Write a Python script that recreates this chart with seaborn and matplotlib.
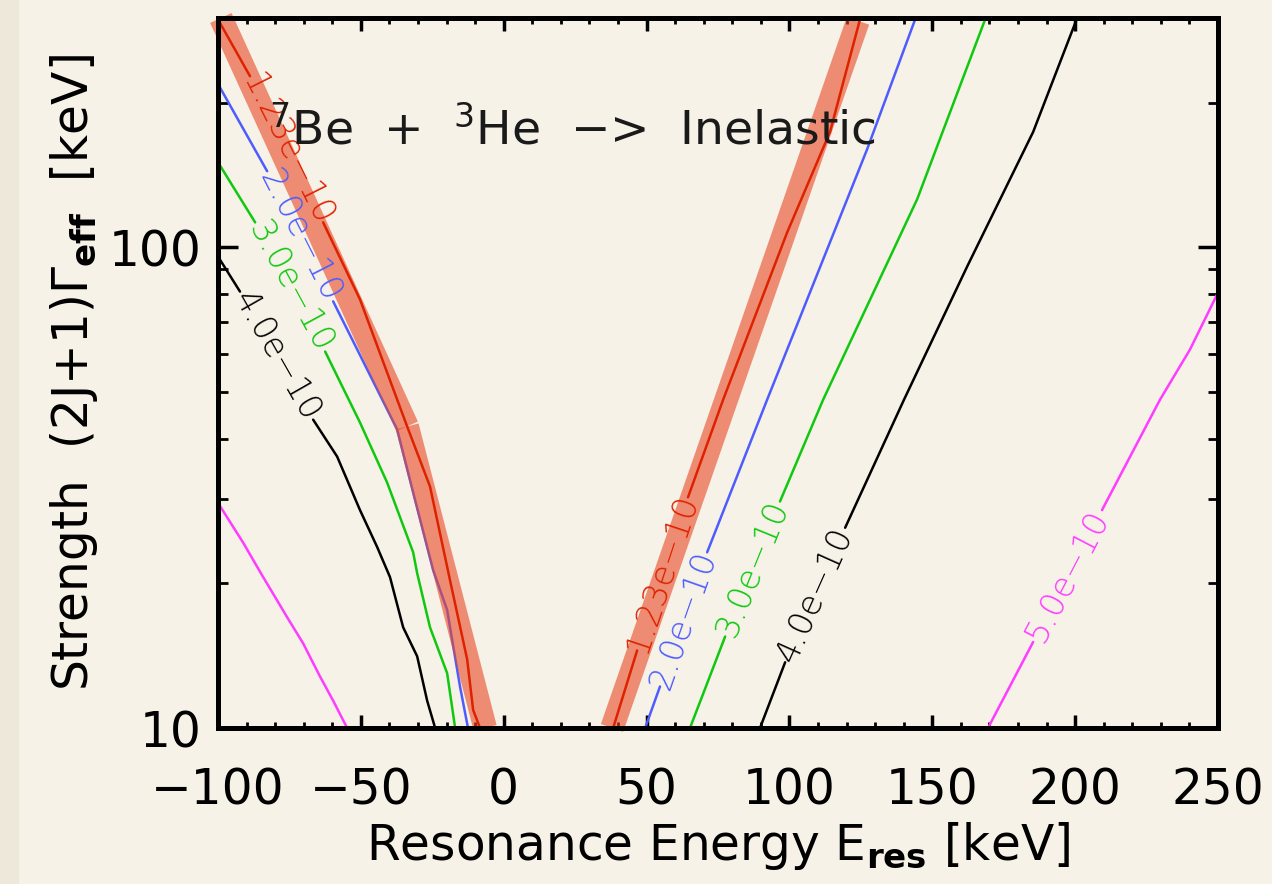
import numpy as np
import pandas as pd
import seaborn as sns
import matplotlib.pyplot as plt
from matplotlib.patches import Rectangle
from matplotlib.ticker import MultipleLocator, LogLocator, NullFormatter, FuncFormatter

sns.set_theme(style="ticks")
plt.rcParams["font.family"] = ["DejaVu Sans"]
plt.rcParams["axes.unicode_minus"] = True

nan = np.nan

# ── contour levels (label text, colour) ────────────────────
levels = ["1.23e−10", "2.0e−10", "3.0e−10", "4.0e−10", "5.0e−10"]
colors = ["#DD2200", "#4E5CFF", "#10C810", "#000000", "#FF3CFF"]

# left branch (NaN = gap for inline label)
red_left_x = [-100, -88.8, nan, -63.2, -50.3, -33.8, -25.8, -18.8, -12.8, -10.7, -8.3]
red_left_y = [298, 227, nan, 112.7, 77.9, 42.4, 31.8, 20.3, 13.9, 10.9, 10]
blue_left_x = [-100, -82.8, nan, -59.7, -37.3, -31.7, -24.7, -19.8, -15.3, -12.5]
blue_left_y = [218.7, 144, nan, 77.2, 41.8, 30.9, 21.3, 17.6, 12.2, 10]
green_left_x = [-100, -87.0, nan, -62.5, -50.3, -40.8, -31.7, -30.3, -25.8, -19.8, -17.0]
green_left_y = [150.3, 112.7, nan, 60.7, 43.2, 32.4, 23.2, 21.0, 16.2, 13.0, 10]
black_left_x = [-100, -92.3, nan, -66.7, -58.3, -50.3, -44.3, -39.8, -35.2, -30.3, -26.8, -24.0]
black_left_y = [95.7, 80.9, nan, 43.8, 36.7, 28.4, 23.8, 20.6, 16.2, 14.1, 11.4, 10]
magenta_left_x = [-100, -91.2, -84.6, -75.8, -70.2, -64.3, -59.7, -54.8]
magenta_left_y = [29.4, 24.3, 20.8, 17.0, 15.0, 12.8, 11.4, 10]

# right branch
red_right_x = [38.3, 46.7, nan, 64.5, 76.8, 99.2, 114.2, 124.7]
red_right_y = [10, 14.5, nan, 30.2, 48.2, 107.4, 173.8, 298]
blue_right_x = [49.5, 54.7, nan, 71.2, 92.2, 127.2, 144.0]
blue_right_y = [10, 12.2, nan, 23.2, 48.2, 160, 298]
green_right_x = [65.2, 77.5, nan, 96.7, 111.8, 144.7, 168.5]
green_right_y = [10, 15.5, nan, 29.6, 48.2, 125.9, 298]
black_right_x = [89.7, 98.5, nan, 119.5, 140.1, 162.2, 185.3, 200.7]
black_right_y = [10, 13.7, nan, 26.1, 48.2, 91.2, 173.8, 300]
magenta_right_x = [169.5, 185.3, nan, 209.4, 229.7, 240.2, 250]
magenta_right_y = [10, 15.1, nan, 28.4, 48.2, 61.3, 80.5]

# highlighted 1.23e-10 band (straight segments)
band_upper_x = [-99, -33.8]
band_upper_y = [300, 42.4]
band_lower_x = [-33.8, -6.5]
band_lower_y = [42.4, 10]
band_right_x = [37.9, 124.0]
band_right_y = [10, 296]

bg = "#F6F2E7"

fig = plt.figure(figsize=(12.72, 8.84), dpi=100, facecolor=bg)
fig.patches.append(Rectangle((0, 0), 18 / 1272, 1, transform=fig.transFigure,
                             color="#EDE8D9", zorder=0))
ax = fig.add_axes([218 / 1272, 156 / 884, 1000 / 1272, 710 / 884])
ax.set_facecolor(bg)
ax.set_yscale("log")
ax.set_xlim(-100, 250)
ax.set_ylim(10, 300)


def draw_curve(xs, ys, color, lw, z):
    df = pd.DataFrame({"x": xs, "y": ys})
    df["seg"] = df["x"].isna().cumsum()
    df = df.dropna()
    sns.lineplot(data=df, x="x", y="y", units="seg", estimator=None, sort=False,
                 color=color, lw=lw, ax=ax, zorder=z, legend=False)


def label_gap(xs, ys, text, color):
    # put the level label in the middle of the gap, along the line
    i = int(np.where(np.isnan(xs))[0][0])
    p1 = ax.transData.transform((xs[i - 1], ys[i - 1]))
    p2 = ax.transData.transform((xs[i + 1], ys[i + 1]))
    ang = np.degrees(np.arctan2(p2[1] - p1[1], p2[0] - p1[0]))
    if ang > 90:
        ang -= 180
    if ang < -90:
        ang += 180
    mid = ax.transData.inverted().transform((p1 + p2) / 2)
    ax.text(mid[0], mid[1], text, color=color, fontsize=24, fontweight="light",
            rotation=ang, rotation_mode="anchor", ha="center", va="center", zorder=6)


left = [(red_left_x, red_left_y), (blue_left_x, blue_left_y),
        (green_left_x, green_left_y), (black_left_x, black_left_y),
        (magenta_left_x, magenta_left_y)]
right = [(red_right_x, red_right_y), (blue_right_x, blue_right_y),
         (green_right_x, green_right_y), (black_right_x, black_right_y),
         (magenta_right_x, magenta_right_y)]

for k, (lv, c) in enumerate(zip(levels, colors)):
    z = 5 if k == 0 else 3
    for xs, ys in (left[k], right[k]):
        xs = np.array(xs, dtype=float)
        ys = np.array(ys, dtype=float)
        draw_curve(xs, ys, c, 1.8, z)
        if np.isnan(xs).any():
            label_gap(xs, ys, lv, c)

# salmon band over the 1.23e-10 contour
for bx, by in ((band_upper_x, band_upper_y), (band_lower_x, band_lower_y),
               (band_right_x, band_right_y)):
    ax.plot(bx, by, color="#E94826", alpha=0.6, lw=17, solid_capstyle="butt",
            zorder=4, clip_on=False)

ax.text(-82, 164, r"$^7$Be  +  $^3$He  −>  Inelastic", fontsize=34,
        color="#1a1a1a", ha="left", va="baseline", zorder=7)

# axes, ticks (IDL style: inward on every side)
ax.xaxis.set_major_locator(MultipleLocator(50))
ax.xaxis.set_minor_locator(MultipleLocator(10))
ax.yaxis.set_major_locator(LogLocator(base=10))
ax.yaxis.set_minor_locator(LogLocator(base=10, subs=np.arange(2, 10)))
ax.yaxis.set_major_formatter(FuncFormatter(lambda v, p: f"{v:g}"))
ax.yaxis.set_minor_formatter(NullFormatter())

ax.tick_params(axis="both", which="both", direction="in", top=True, right=True,
               colors="black", labelsize=35)
ax.tick_params(axis="x", which="major", length=9.5, width=2.5, pad=28)
ax.tick_params(axis="x", which="minor", length=4.5, width=2)
ax.tick_params(axis="y", which="major", length=14.5, width=2.5, pad=12)
ax.tick_params(axis="y", which="minor", length=7.5, width=2)
for s in ax.spines.values():
    s.set_linewidth(3.6)
    s.set_color("black")
    s.set_zorder(8)
ax.grid(False)

ax.set_xlabel(r"Resonance Energy E$_{\mathbf{res}}$ [keV]", fontsize=35,
              labelpad=4, color="black")
ax.set_ylabel(r"Strength  (2J+1)Γ$_{\mathbf{eff}}$  [keV]", fontsize=35,
              labelpad=6, color="black")

fig.savefig("out.png", dpi=100, facecolor=bg)
